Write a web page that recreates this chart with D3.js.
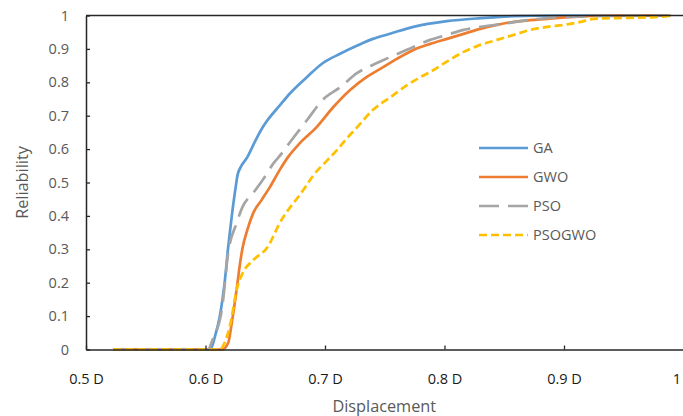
<!DOCTYPE html>
<html>
<head>
<meta charset="utf-8">
<script src="https://cdn.jsdelivr.net/npm/d3@7"></script>
<style>
  body { margin: 0; background: #fff; }
  svg { display: block; font-family: "Open Sans", sans-serif; }
</style>
</head>
<body>
<script>
// chart values
let seriesNames = ['GA', 'GWO', 'PSO', 'PSOGWO']
let xTicks = [0.5, 0.6, 0.7, 0.8, 0.9, 1]
let xTickLabels = ['0.5 D', '0.6 D', '0.7 D', '0.8 D', '0.9 D', '1 D']
let yTicks = [0, 0.1, 0.2, 0.3, 0.4, 0.5, 0.6, 0.7, 0.8, 0.9, 1]
let yTickLabels = ['0', '0.1', '0.2', '0.3', '0.4', '0.5', '0.6', '0.7', '0.8', '0.9', '1']

let gaX = [0.523, 0.604, 0.608, 0.612, 0.616, 0.619, 0.622, 0.625, 0.627, 0.629, 0.635, 0.642, 0.648, 0.652, 0.662, 0.671, 0.685, 0.698, 0.713, 0.727, 0.740, 0.755, 0.774, 0.802, 0.830, 0.858, 0.897, 0.989]
let gaY = [0, 0, 0.04, 0.10, 0.20, 0.307, 0.40, 0.48, 0.525, 0.543, 0.576, 0.627, 0.666, 0.687, 0.73, 0.768, 0.816, 0.857, 0.886, 0.91, 0.93, 0.946, 0.966, 0.983, 0.992, 0.998, 1, 1]

let gwoX = [0.523, 0.614, 0.619, 0.622, 0.626, 0.629, 0.631, 0.635, 0.640, 0.647, 0.654, 0.662, 0.669, 0.679, 0.693, 0.707, 0.721, 0.735, 0.749, 0.760, 0.774, 0.788, 0.802, 0.816, 0.830, 0.844, 0.858, 0.886, 0.908, 0.947, 0.989]
let gwoY = [0, 0, 0.02, 0.08, 0.178, 0.26, 0.304, 0.358, 0.409, 0.448, 0.487, 0.537, 0.576, 0.618, 0.666, 0.726, 0.777, 0.816, 0.846, 0.87, 0.897, 0.915, 0.93, 0.945, 0.96, 0.972, 0.981, 0.99, 0.996, 1, 1]

let psoX = [0.523, 0.602, 0.606, 0.614, 0.619, 0.626, 0.631, 0.640, 0.648, 0.657, 0.664, 0.671, 0.685, 0.698, 0.713, 0.727, 0.740, 0.755, 0.774, 0.788, 0.802, 0.816, 0.830, 0.849, 0.872, 0.900, 0.947, 0.989]
let psoY = [0, 0, 0.03, 0.127, 0.29, 0.378, 0.427, 0.469, 0.508, 0.558, 0.588, 0.622, 0.687, 0.747, 0.786, 0.828, 0.852, 0.876, 0.906, 0.927, 0.942, 0.957, 0.966, 0.975, 0.987, 0.996, 0.999, 1]

let psogwoX = [0.523, 0.612, 0.616, 0.621, 0.626, 0.631, 0.640, 0.652, 0.662, 0.682, 0.690, 0.702, 0.710, 0.719, 0.727, 0.740, 0.755, 0.769, 0.780, 0.788, 0.802, 0.816, 0.830, 0.844, 0.858, 0.872, 0.886, 0.900, 0.914, 0.925, 0.953, 0.981, 0.989]
let psogwoY = [0, 0, 0.02, 0.08, 0.178, 0.228, 0.268, 0.307, 0.378, 0.478, 0.52, 0.567, 0.597, 0.635, 0.666, 0.717, 0.756, 0.792, 0.816, 0.831, 0.862, 0.891, 0.912, 0.927, 0.942, 0.957, 0.966, 0.972, 0.981, 0.99, 0.993, 0.996, 1]

var width = 683, height = 416
var plotLeft = 86, plotRight = 683.5, plotTop = 15.5, plotBottom = 349.5

var series = [
  { name: seriesNames[0], x: gaX, y: gaY, color: '#5B9BD5', dash: null },
  { name: seriesNames[1], x: gwoX, y: gwoY, color: '#ED7D31', dash: null },
  { name: seriesNames[2], x: psoX, y: psoY, color: '#A5A5A5', dash: '20,9' },
  { name: seriesNames[3], x: psogwoX, y: psogwoY, color: '#FFC000', dash: '8,4' }
]

var svg = d3.select('body')
            .append('svg')
            .attr('width', width)
            .attr('height', height)

var xscale = d3.scaleLinear().domain([0.5, 1]).range([plotLeft, plotRight])
var yscale = d3.scaleLinear().domain([0, 1]).range([plotBottom, plotTop])

// lines
var line = d3.line()
             .x(d => xscale(d[0]))
             .y(d => yscale(d[1]))
             .curve(d3.curveMonotoneX)

series.forEach(s => {
    svg.append('path')
       .datum(s.x.map((v, i) => [v, s.y[i]]))
       .attr('fill', 'none')
       .attr('stroke', s.color)
       .attr('stroke-width', 2.7)
       .attr('stroke-dasharray', s.dash)
       .attr('d', line)
})

// top border
svg.append('line')
   .attr('x1', plotLeft).attr('x2', width)
   .attr('y1', plotTop).attr('y2', plotTop)
   .attr('stroke', '#262626')
   .attr('stroke-width', 1.5)

// axes
var x_axis = d3.axisBottom(xscale)
               .tickValues(xTicks)
               .tickFormat((d, i) => xTickLabels[i])
               .tickSizeInner(-4)
               .tickSizeOuter(0)
               .tickPadding(24)

var y_axis = d3.axisLeft(yscale)
               .tickValues(yTicks)
               .tickFormat((d, i) => yTickLabels[i])
               .tickSizeInner(-4)
               .tickSizeOuter(0)
               .tickPadding(17)

var gx = svg.append('g')
            .attr('transform', 'translate(0,' + plotBottom + ')')
            .call(x_axis)

var gy = svg.append('g')
            .attr('transform', 'translate(' + plotLeft + ',0)')
            .call(y_axis)

gx.select('.domain').attr('stroke', '#262626').attr('stroke-width', 1.5)
gy.select('.domain').attr('stroke', '#262626').attr('stroke-width', 1.5)
gx.selectAll('.tick line').attr('stroke', '#262626').attr('stroke-width', 1.3)
gy.selectAll('.tick line').attr('stroke', '#262626').attr('stroke-width', 1.3)
gx.selectAll('text').attr('font-size', '14.5px').attr('fill', '#1a1a1a').style('font-family', '"Open Sans", sans-serif')
gy.selectAll('text').attr('font-size', '14.5px').attr('fill', '#595959').style('font-family', '"Open Sans", sans-serif')

// axis titles
svg.append('text')
   .attr('x', (plotLeft + plotRight) / 2 - 0.5)
   .attr('y', 412)
   .attr('text-anchor', 'middle')
   .attr('font-size', '16.3px')
   .attr('fill', '#595959')
   .text('Displacement')

svg.append('text')
   .attr('transform', 'translate(28,' + (plotTop + plotBottom) / 2 + ') rotate(-90)')
   .attr('text-anchor', 'middle')
   .attr('font-size', '16.3px')
   .attr('fill', '#595959')
   .text('Reliability')

// legend
var legend = svg.append('g')
series.forEach((s, i) => {
    var ly = 148 + i * 29
    legend.append('line')
          .attr('x1', 479).attr('x2', 528)
          .attr('y1', ly).attr('y2', ly)
          .attr('stroke', s.color)
          .attr('stroke-width', 2.7)
          .attr('stroke-dasharray', s.dash)
    legend.append('text')
          .attr('x', 533)
          .attr('y', ly)
          .attr('dy', '0.35em')
          .attr('font-size', '14.5px')
          .attr('fill', '#595959')
          .text(s.name)
})
</script>
</body>
</html>
